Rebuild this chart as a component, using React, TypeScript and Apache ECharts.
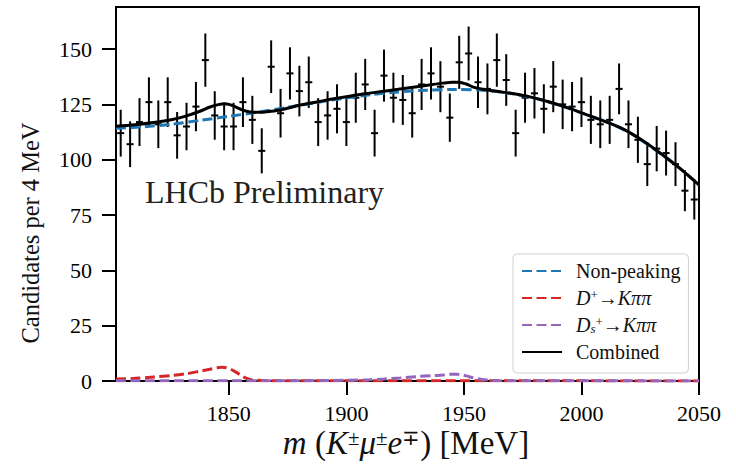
import React, { useEffect, useRef } from "react";
import * as echarts from "echarts";

// Bin centres (4 MeV bins from 1802 to 2050)
const binCenters = [
  1804, 1808, 1812, 1816, 1820, 1824, 1828, 1832, 1836, 1840, 1844, 1848, 1852, 1856, 1860, 1864,
  1868, 1872, 1876, 1880, 1884, 1888, 1892, 1896, 1900, 1904, 1908, 1912, 1916, 1920, 1924, 1928,
  1932, 1936, 1940, 1944, 1948, 1952, 1956, 1960, 1964, 1968, 1972, 1976, 1980, 1984, 1988, 1992,
  1996, 2000, 2004, 2008, 2012, 2016, 2020, 2024, 2028, 2032, 2036, 2040, 2044, 2048,
];
const candidates = [
  112, 107, 117, 126, 116, 126, 111, 115, 124, 145, 120, 115, 115, 126, 118, 104,
  142, 121, 139, 131, 135, 117, 120, 123, 117, 128, 134, 112, 138, 128, 127, 121,
  134, 139, 133, 119, 144, 148, 135, 132, 145, 136, 112, 128, 130, 123, 133, 125,
  124, 126, 118, 116, 118, 132, 116, 109, 98, 105, 103, 98, 86, 82,
];

// Fit components
const nonPeakingX = [1802, 1814, 1826, 1838, 1850, 1862, 1874, 1886, 1898, 1910, 1922, 1934, 1946, 1958, 1970, 1982, 1994, 2006, 2018, 2030, 2042, 2050];
const nonPeakingY = [114.2, 114.9, 116.1, 117.8, 119.6, 121.4, 123.5, 125.6, 127.6, 129.3, 130.6, 131.4, 131.7, 131.4, 129.9, 127.3, 123.4, 118.8, 113.6, 105.6, 96.0, 88.6];

const dPlusX = [1802, 1810, 1818, 1826, 1832, 1838, 1842, 1845, 1847, 1849, 1851, 1853, 1855, 1857, 1859, 1862, 1868, 1900, 2050];
const dPlusY = [0.9, 1.2, 1.8, 2.5, 3.3, 4.5, 5.3, 6.0, 6.2, 6.0, 5.2, 4.0, 2.7, 1.4, 0.7, 0.3, 0.12, 0.08, 0.05];

const dsPlusX = [1802, 1880, 1900, 1910, 1916, 1923, 1930, 1937, 1941, 1944, 1947, 1949, 1951, 1954, 1957, 1960, 1964, 1970, 2050];
const dsPlusY = [0.1, 0.15, 0.35, 0.6, 0.9, 1.4, 2.0, 2.4, 2.7, 3.0, 3.0, 2.8, 2.3, 1.4, 0.8, 0.4, 0.2, 0.1, 0.05];

const combinedX = [1802, 1810, 1818, 1826, 1832, 1838, 1842, 1846, 1848, 1850, 1853, 1856, 1859, 1863, 1867, 1872, 1880, 1888, 1894, 1902, 1908, 1915, 1922, 1930, 1936, 1941, 1945, 1948, 1951, 1954, 1958, 1962, 1966, 1970, 1978, 1986, 1994, 2002, 2010, 2018, 2026, 2034, 2042, 2050];
const combinedY = [115.1, 115.8, 116.8, 118.2, 119.8, 122.0, 123.8, 125.0, 125.3, 125.0, 123.8, 122.4, 121.6, 121.4, 121.8, 122.5, 124.6, 126.2, 127.4, 128.8, 129.8, 130.8, 131.8, 133.0, 133.9, 134.6, 135.0, 135.0, 134.2, 132.8, 131.8, 131.2, 130.6, 130.0, 128.4, 126.2, 123.5, 120.4, 117.3, 113.7, 108.7, 102.6, 96.0, 88.6];

const xTicks = [1850, 1900, 1950, 2000, 2050];
const yTicks = [0, 25, 50, 75, 100, 125, 150];

const legendNames = ["Non-peaking", "D+ → Kππ", "Ds+ → Kππ", "Combined"];
const legendRich: Record<string, string> = {
  "Non-peaking": "Non-peaking",
  "D+ → Kππ": "{i|D}{sup|+}→{i|Kππ}",
  "Ds+ → Kππ": "{i|D}{sub|s}{sup|+}→{i|Kππ}",
  Combined: "Combined",
};

const zip = (xs: number[], ys: number[]) => xs.map((x, i) => [x, ys[i]]);

const FONT = "Liberation Serif";

export default function App() {
  const ref = useRef<HTMLDivElement>(null);
  useEffect(() => {
    const chart = echarts.init(ref.current!, null, { renderer: "svg" });
    chart.setOption({
      animation: false,
      backgroundColor: "#ffffff",
      textStyle: { fontFamily: FONT },
      grid: {
        left: 116,
        right: 37,
        top: 7,
        bottom: 83,
        show: true,
        borderColor: "#000",
        borderWidth: 2,
        backgroundColor: "transparent",
      },
      xAxis: {
        type: "value",
        min: 1802,
        max: 2050,
        axisLine: { show: true, onZero: false, lineStyle: { color: "#000", width: 2 } },
        axisTick: { show: true, length: 14, lineStyle: { color: "#000", width: 2 }, customValues: xTicks },
        axisLabel: {
          customValues: xTicks,
          margin: 21,
          fontSize: 22,
          color: "#000",
          fontFamily: FONT,
          formatter: (v: number) => String(v),
        },
        splitLine: { show: false },
      },
      yAxis: {
        type: "value",
        min: 0,
        max: 169,
        axisLine: { show: true, onZero: false, lineStyle: { color: "#000", width: 2 } },
        axisTick: { show: true, length: 14, lineStyle: { color: "#000", width: 2 }, customValues: yTicks },
        axisLabel: {
          customValues: yTicks,
          margin: 24,
          fontSize: 22,
          color: "#000",
          fontFamily: FONT,
          formatter: (v: number) => String(v),
        },
        splitLine: { show: false },
      },
      legend: {
        data: legendNames,
        orient: "vertical",
        left: 513,
        top: 254,
        padding: [7, 8, 11, 8],
        itemWidth: 40,
        itemHeight: 14,
        itemGap: 7,
        backgroundColor: "rgba(255,255,255,0.85)",
        borderColor: "#d0d0d0",
        borderWidth: 1,
        borderRadius: 4,
        selectedMode: false,
        itemStyle: { opacity: 0 },
        formatter: (name: string) => legendRich[name] ?? name,
        textStyle: {
          fontFamily: FONT,
          fontSize: 20,
          lineHeight: 20,
          color: "#111",
          padding: [0, 0, 0, 9],
          rich: {
            i: { fontFamily: FONT, fontSize: 20, lineHeight: 20, fontStyle: "italic", color: "#111" },
            sup: { fontFamily: FONT, fontSize: 13, lineHeight: 20, verticalAlign: "top", color: "#111" },
            sub: { fontFamily: FONT, fontSize: 13, lineHeight: 20, fontStyle: "italic", verticalAlign: "bottom", color: "#111" },
          },
        },
      },
      graphic: [
        {
          type: "text",
          x: 145,
          y: 192,
          style: {
            text: "LHCb Preliminary",
            fontFamily: FONT,
            fontSize: 32,
            fill: "#222",
            align: "left",
            verticalAlign: "middle",
          },
        },
        {
          type: "text",
          x: 30,
          y: 233,
          rotation: Math.PI / 2,
          style: {
            text: "Candidates per 4 MeV",
            fontFamily: FONT,
            fontSize: 24.5,
            fill: "#111",
            align: "center",
            verticalAlign: "middle",
          },
        },
        {
          type: "text",
          x: 406,
          y: 443,
          style: {
            text: "{i|m} ({i|K}{sup|±}{i|μ}{sup|±}{i|e}{sup|∓}) [MeV]",
            fontFamily: FONT,
            fontSize: 33,
            lineHeight: 32,
            fill: "#111",
            align: "center",
            verticalAlign: "middle",
            rich: {
              i: { fontFamily: FONT, fontSize: 33, lineHeight: 32, fontStyle: "italic", fill: "#111" },
              sup: { fontFamily: FONT, fontSize: 21, lineHeight: 32, verticalAlign: "top", fill: "#111" },
            },
          },
        },
      ],
      series: [
        {
          name: "Data",
          type: "custom",
          z: 1,
          data: zip(binCenters, candidates),
          renderItem: (params: any, api: any) => {
            const x = api.value(0);
            const y = api.value(1);
            const e = Math.sqrt(y);
            const top = api.coord([x, y + e]);
            const bot = api.coord([x, y - e]);
            const l = api.coord([x - 1.5, y]);
            const r = api.coord([x + 1.5, y]);
            return {
              type: "group",
              children: [
                { type: "line", shape: { x1: top[0], y1: top[1], x2: bot[0], y2: bot[1] }, style: { stroke: "#000", lineWidth: 2 } },
                { type: "line", shape: { x1: l[0], y1: l[1], x2: r[0], y2: r[1] }, style: { stroke: "#000", lineWidth: 2 } },
              ],
            };
          },
        },
        {
          name: "Non-peaking",
          type: "line",
          z: 3,
          data: zip(nonPeakingX, nonPeakingY),
          smooth: 0.3,
          symbol: "none",
          color: "#1f77b4",
          lineStyle: { color: "#1f77b4", width: 3, type: [10, 4.5] },
        },
        {
          name: "D+ → Kππ",
          type: "line",
          z: 3,
          data: zip(dPlusX, dPlusY),
          smooth: 0.3,
          symbol: "none",
          color: "#d62728",
          lineStyle: { color: "#d62728", width: 3, type: [10, 4.5] },
        },
        {
          name: "Ds+ → Kππ",
          type: "line",
          z: 4,
          data: zip(dsPlusX, dsPlusY),
          smooth: 0.3,
          symbol: "none",
          color: "#9467bd",
          lineStyle: { color: "#9467bd", width: 3, type: [10, 4.5] },
        },
        {
          name: "Combined",
          type: "line",
          z: 5,
          data: zip(combinedX, combinedY),
          smooth: 0.3,
          symbol: "none",
          color: "#000",
          lineStyle: { color: "#000", width: 3 },
        },
      ],
    });
    return () => chart.dispose();
  }, []);
  return (
    <div
      ref={ref}
      style={{ position: "fixed", left: 0, top: 0, width: 736, height: 464, background: "#fff" }}
    />
  );
}
